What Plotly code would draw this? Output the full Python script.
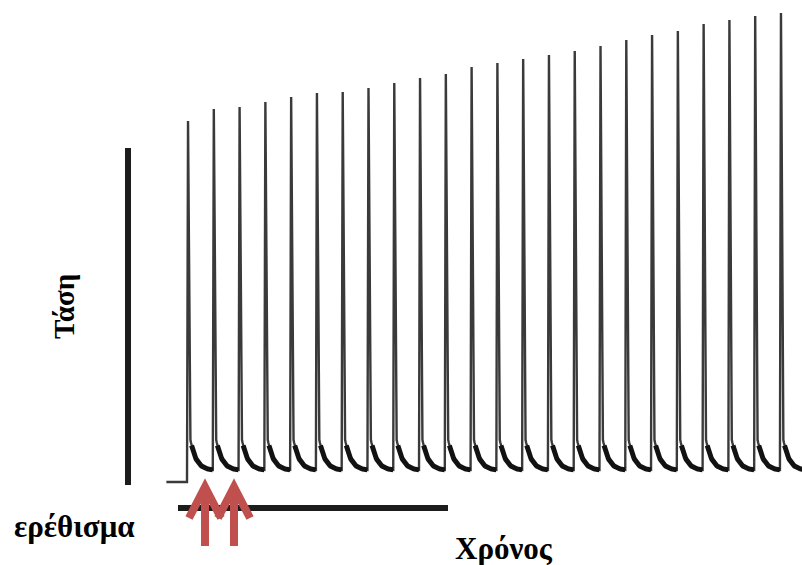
import numpy as np
import plotly.graph_objects as go

# ---------------- data ----------------
stim_times_s = [0.0, 0.2, 0.4, 0.6, 0.8, 1.0, 1.2, 1.4, 1.6, 1.8, 2.0, 2.2,
                2.4, 2.6, 2.8, 3.0, 3.2, 3.4, 3.6, 3.8, 4.0, 4.2, 4.4, 4.6]
peak_tension = [3.47, 3.59, 3.61, 3.66, 3.71, 3.75, 3.76, 3.80, 3.85, 3.90, 3.94, 4.01,
                4.05, 4.09, 4.13, 4.17, 4.22, 4.28, 4.33, 4.37, 4.44, 4.48, 4.52, 4.55]
rest_tension = -0.14          # baseline before the first stimulus
record_start_s = -0.16
record_end_s = 4.80
fall_level = 0.34             # level reached by the fast fall after each peak
decay_tau_s = 0.045

label_y = "Τάση"
label_x = "Χρόνος"
label_stim = "ερέθισμα"

# ---------------- build trace ----------------
xs, ys = [record_start_s], [rest_tension]
bx, by = [], []
for i, (t0, p) in enumerate(zip(stim_times_s, peak_tension)):
    t_next = stim_times_s[i + 1] if i + 1 < len(stim_times_s) else record_end_s
    xs += [t0, t0 + 0.008, t0 + 0.022]
    ys += [ys[-1], p, fall_level]
    u = np.linspace(0.022, t_next - t0, 40)
    dec = fall_level * np.exp(-(u - 0.022) / decay_tau_s) - 0.025
    xs += list(t0 + u)
    ys += list(dec)
    m = dec < 0.24
    bx += list((t0 + u)[m]) + [None]
    by += list(dec[m]) + [None]

W, H = 802, 565
px_per_s = 25.78 / 0.2
x_at0 = 187.0
x_range = [(0 - x_at0) / px_per_s, (W - x_at0) / px_per_s]
y0_px, px_per_unit = 468.0, 100.0
y_range = [(y0_px - H) / px_per_unit, y0_px / px_per_unit]

def px(x):
    return x / W

def py(y):
    return 1 - y / H

fig = go.Figure()
fig.add_trace(go.Scatter(x=xs, y=ys, mode="lines",
                         line=dict(color="#3a3a3a", width=2.4), hoverinfo="skip"))
fig.add_trace(go.Scatter(x=bx, y=by, mode="lines",
                         line=dict(color="#121212", width=5), hoverinfo="skip"))

shapes = []
# vertical scale bar (tension)
shapes.append(dict(type="line", xref="paper", yref="paper",
                   x0=px(128), x1=px(128), y0=py(148), y1=py(485),
                   line=dict(color="#1c1c1c", width=6)))
# horizontal scale bar (time)
shapes.append(dict(type="line", xref="paper", yref="paper",
                   x0=px(178), x1=px(448), y0=py(508), y1=py(508),
                   line=dict(color="#1c1c1c", width=6)))
# stimulus arrows
red = "#c0504d"
for ax in (205, 234):
    shapes.append(dict(type="path", xref="paper", yref="paper",
                       path=f"M {px(ax)},{py(546)} L {px(ax)},{py(489)}",
                       line=dict(color=red, width=8)))
    shapes.append(dict(type="path", xref="paper", yref="paper",
                       path=f"M {px(ax-16)},{py(518)} L {px(ax)},{py(487)} L {px(ax+16)},{py(518)}",
                       line=dict(color=red, width=8)))

font_v = dict(family="Liberation Serif", size=29, color="black", weight="bold")
font_h = dict(family="Liberation Serif", size=31, color="black", weight="bold")
annotations = [
    dict(text=label_y, xref="paper", yref="paper", x=px(64), y=py(307),
         textangle=-90, showarrow=False, font=font_v, xanchor="center", yanchor="middle"),
    dict(text=label_stim, xref="paper", yref="paper", x=px(74), y=py(526),
         showarrow=False, font=font_h, xanchor="center", yanchor="middle"),
    dict(text=label_x, xref="paper", yref="paper", x=px(504), y=py(548),
         showarrow=False, font=font_h, xanchor="center", yanchor="middle"),
]

fig.update_layout(width=W, height=H, margin=dict(l=0, r=0, t=0, b=0),
                  paper_bgcolor="white", plot_bgcolor="white", showlegend=False,
                  shapes=shapes, annotations=annotations)
fig.update_xaxes(range=x_range, visible=False, fixedrange=True)
fig.update_yaxes(range=y_range, visible=False, fixedrange=True)
fig.write_html("out.html")
